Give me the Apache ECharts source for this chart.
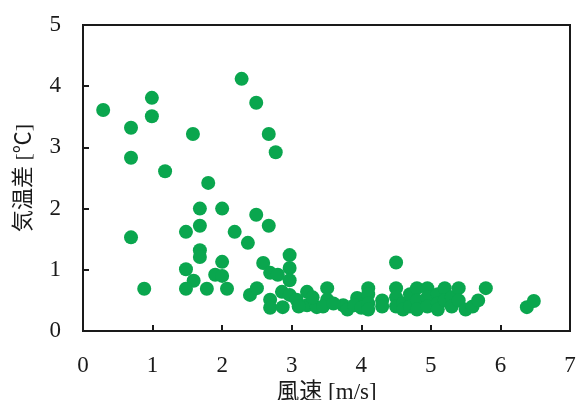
<!DOCTYPE html>
<html>
<head>
<meta charset="utf-8">
<script src="https://cdn.jsdelivr.net/npm/echarts@6/dist/echarts.min.js"></script>
<style>html,body{margin:0;padding:0;background:#fff;}#c{width:579px;height:400px;}</style>
</head>
<body>
<div id="c"></div>
<script>
// wind speed [m/s]
var windSpeed = [
  0.29,0.69,0.69,0.99,0.99,1.18,1.58,0.69,0.88,
  1.80,2.28,2.49,2.67,2.77,
  1.68,2.00,1.48,1.68,2.18,2.37,2.49,2.67,
  1.68,1.68,2.00,1.48,1.59,1.90,2.00,1.48,1.78,2.07,
  2.59,2.69,2.80,2.97,2.97,2.97,2.40,2.50,2.69,2.69,2.86,2.87,2.97,3.07,3.22,3.22,3.51,3.51,3.36,3.74,3.94,
  3.10,3.30,3.45,3.60,3.80,3.90,4.00,
  4.10,4.10,4.10,4.10,4.30,4.30,4.50,4.50,4.50,4.50,4.60,4.60,4.70,4.70,4.80,4.80,4.80,
  4.95,4.95,4.95,5.10,5.10,5.10,5.20,5.20,5.30,5.30,5.40,5.40,5.50,5.60,5.68,5.79,6.38,6.48
];
// temperature difference [°C]
var tempDiff = [
  3.61,3.32,2.83,3.81,3.51,2.61,3.22,1.53,0.69,
  2.42,4.12,3.73,3.22,2.92,
  2.00,2.00,1.62,1.72,1.62,1.44,1.90,1.72,
  1.32,1.21,1.13,1.01,0.82,0.92,0.90,0.69,0.69,0.69,
  1.11,0.95,0.92,1.24,1.03,0.83,0.59,0.70,0.51,0.38,0.64,0.39,0.59,0.51,0.64,0.42,0.70,0.51,0.39,0.42,0.54,
  0.40,0.55,0.40,0.45,0.35,0.42,0.38,
  0.70,0.60,0.45,0.35,0.50,0.40,1.12,0.70,0.55,0.40,0.45,0.35,0.60,0.40,0.70,0.50,0.35,
  0.70,0.55,0.40,0.60,0.45,0.35,0.70,0.50,0.55,0.40,0.70,0.50,0.35,0.40,0.50,0.70,0.39,0.49
];
var xTicks = [0,1,2,3,4,5,6,7];
var yTicks = [0,1,2,3,4,5];

var points = windSpeed.map(function(v,i){return [v, tempDiff[i]];});
var chart = echarts.init(document.getElementById('c'), null, {renderer:'canvas'});
var serif = '"Liberation Serif","Noto Sans CJK JP",serif';
chart.setOption({
  animation:false,
  backgroundColor:'#fff',
  grid:{left:83, right:9, top:25, bottom:69, containLabel:false, outerBoundsMode:'none',
        show:true, borderColor:'#1a1a1a', borderWidth:2, backgroundColor:'transparent'},
  xAxis:{
    type:'value', min:xTicks[0], max:xTicks[xTicks.length-1], interval:1,
    name:'風速 [m/s]', nameLocation:'middle', nameGap:46,
    nameTextStyle:{fontFamily:serif, fontSize:23, color:'#1a1a1a'},
    axisLine:{show:true, lineStyle:{color:'#1a1a1a', width:2}},
    axisTick:{show:true, inside:true, length:6, lineStyle:{color:'#1a1a1a', width:2}},
    axisLabel:{fontFamily:serif, fontSize:23, color:'#1a1a1a', margin:23},
    splitLine:{show:false}
  },
  yAxis:{
    type:'value', min:yTicks[0], max:yTicks[yTicks.length-1], interval:1,
    name:'気温差 [℃]', nameLocation:'middle', nameGap:48, nameRotate:90,
    nameTextStyle:{fontFamily:serif, fontSize:22, color:'#1a1a1a'},
    axisLine:{show:true, lineStyle:{color:'#1a1a1a', width:2}},
    axisTick:{show:true, inside:true, length:6, lineStyle:{color:'#1a1a1a', width:2}},
    axisLabel:{fontFamily:serif, fontSize:23, color:'#1a1a1a', margin:22},
    splitLine:{show:false}
  },
  series:[{
    type:'scatter', data:points, symbol:'circle', symbolSize:14,
    itemStyle:{color:'#0aa64e', opacity:1}
  }]
});
</script>
</body>
</html>
